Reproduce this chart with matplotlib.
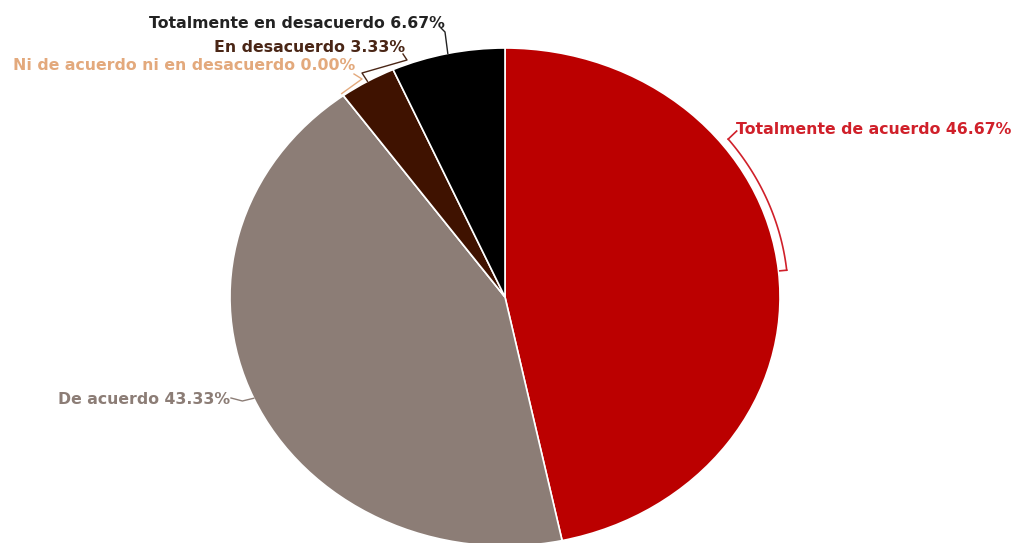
import numpy as np
import matplotlib.pyplot as plt

# responses, clockwise from 12 o'clock
categories = ["Totalmente de acuerdo", "De acuerdo", "Ni de acuerdo ni en desacuerdo",
              "En desacuerdo", "Totalmente en desacuerdo"]
percents = [46.67, 43.33, 0.00, 3.33, 6.67]
colors = ["#bb0000", "#8c7d76", "#e3a97c", "#3f1200", "#000000"]
label_colors = ["#d0202a", "#8c7d76", "#e3a97c", "#4a2616", "#222222"]

W, H = 1017, 543
cx, cy, rx, ry = 505, 297, 275, 249   # pie centre / radii in pixels


def px(x, y):
    # pixel position -> data coords of the pie axes
    return (x - cx) / rx, (cy - y) / ry


fig = plt.figure(figsize=(W / 100, H / 100), dpi=100)
ax = fig.add_axes([0, 0, 1, 1])
wedges, _ = ax.pie(percents, colors=colors, startangle=90, counterclock=False,
                   wedgeprops=dict(edgecolor="white", linewidth=1.2))
ax.set_aspect("auto")
ax.set_xlim(-cx / rx, (W - cx) / rx)
ax.set_ylim((cy - H) / ry, cy / ry)
ax.axis("off")

font = dict(family=["DejaVu Sans"], weight="bold", fontsize=11.3)


def edge(w, r=1.0):
    a = np.deg2rad((w.theta1 + w.theta2) / 2)
    return r * np.cos(a), r * np.sin(a)


texts = [f"{c} {p:.2f}%" for c, p in zip(categories, percents)]

# Totalmente de acuerdo: bracket arc along the slice edge
ang = np.deg2rad(np.linspace(90 - 52, 90 - 84, 60))
r = 1.03
ax.plot(r * np.cos(ang), r * np.sin(ang), color=label_colors[0], lw=1.2)
a0, a1 = ang[0], ang[-1]
ax.plot([r * np.cos(a0), 1.05 * np.cos(a0) + 0.015], [r * np.sin(a0), 1.05 * np.sin(a0) + 0.02],
        color=label_colors[0], lw=1.2)
ax.plot([r * np.cos(a1), 1.005 * np.cos(a1)], [r * np.sin(a1), 1.005 * np.sin(a1)],
        color=label_colors[0], lw=1.2)
ax.text(*px(736, 130), texts[0], color=label_colors[0], ha="left", va="center", **font)

# De acuerdo
ex, ey = edge(wedges[1])
sx, sy = px(231, 398)
ax.plot([sx, (sx + ex) / 2, ex], [sy, sy - 0.012, ey], color=label_colors[1], lw=1.0)
ax.text(*px(230, 400), texts[1], color=label_colors[1], ha="right", va="center", **font)

# Ni de acuerdo ni en desacuerdo
ex, ey = edge(wedges[2], 1.01)
ax.plot([px(354, 74)[0], px(362, 79)[0], ex], [px(354, 74)[1], px(362, 79)[1], ey],
        color=label_colors[2], lw=1.0)
ax.text(*px(355, 66), texts[2], color=label_colors[2], ha="right", va="center", **font)

# En desacuerdo
ex, ey = edge(wedges[3], 1.0)
pts = [px(403, 54), px(407, 60), px(362, 73)]
ax.plot([p[0] for p in pts] + [ex], [p[1] for p in pts] + [ey], color=label_colors[3], lw=1.0)
ax.text(*px(405, 47), texts[3], color=label_colors[3], ha="right", va="center", **font)

# Totalmente en desacuerdo
ex, ey = edge(wedges[4], 1.0)
pts = [px(441, 28), px(445, 32)]
ax.plot([p[0] for p in pts] + [ex], [p[1] for p in pts] + [ey], color=label_colors[4], lw=1.0)
ax.text(*px(445, 23), texts[4], color=label_colors[4], ha="right", va="center", **font)

fig.savefig("out.png", dpi=100)
